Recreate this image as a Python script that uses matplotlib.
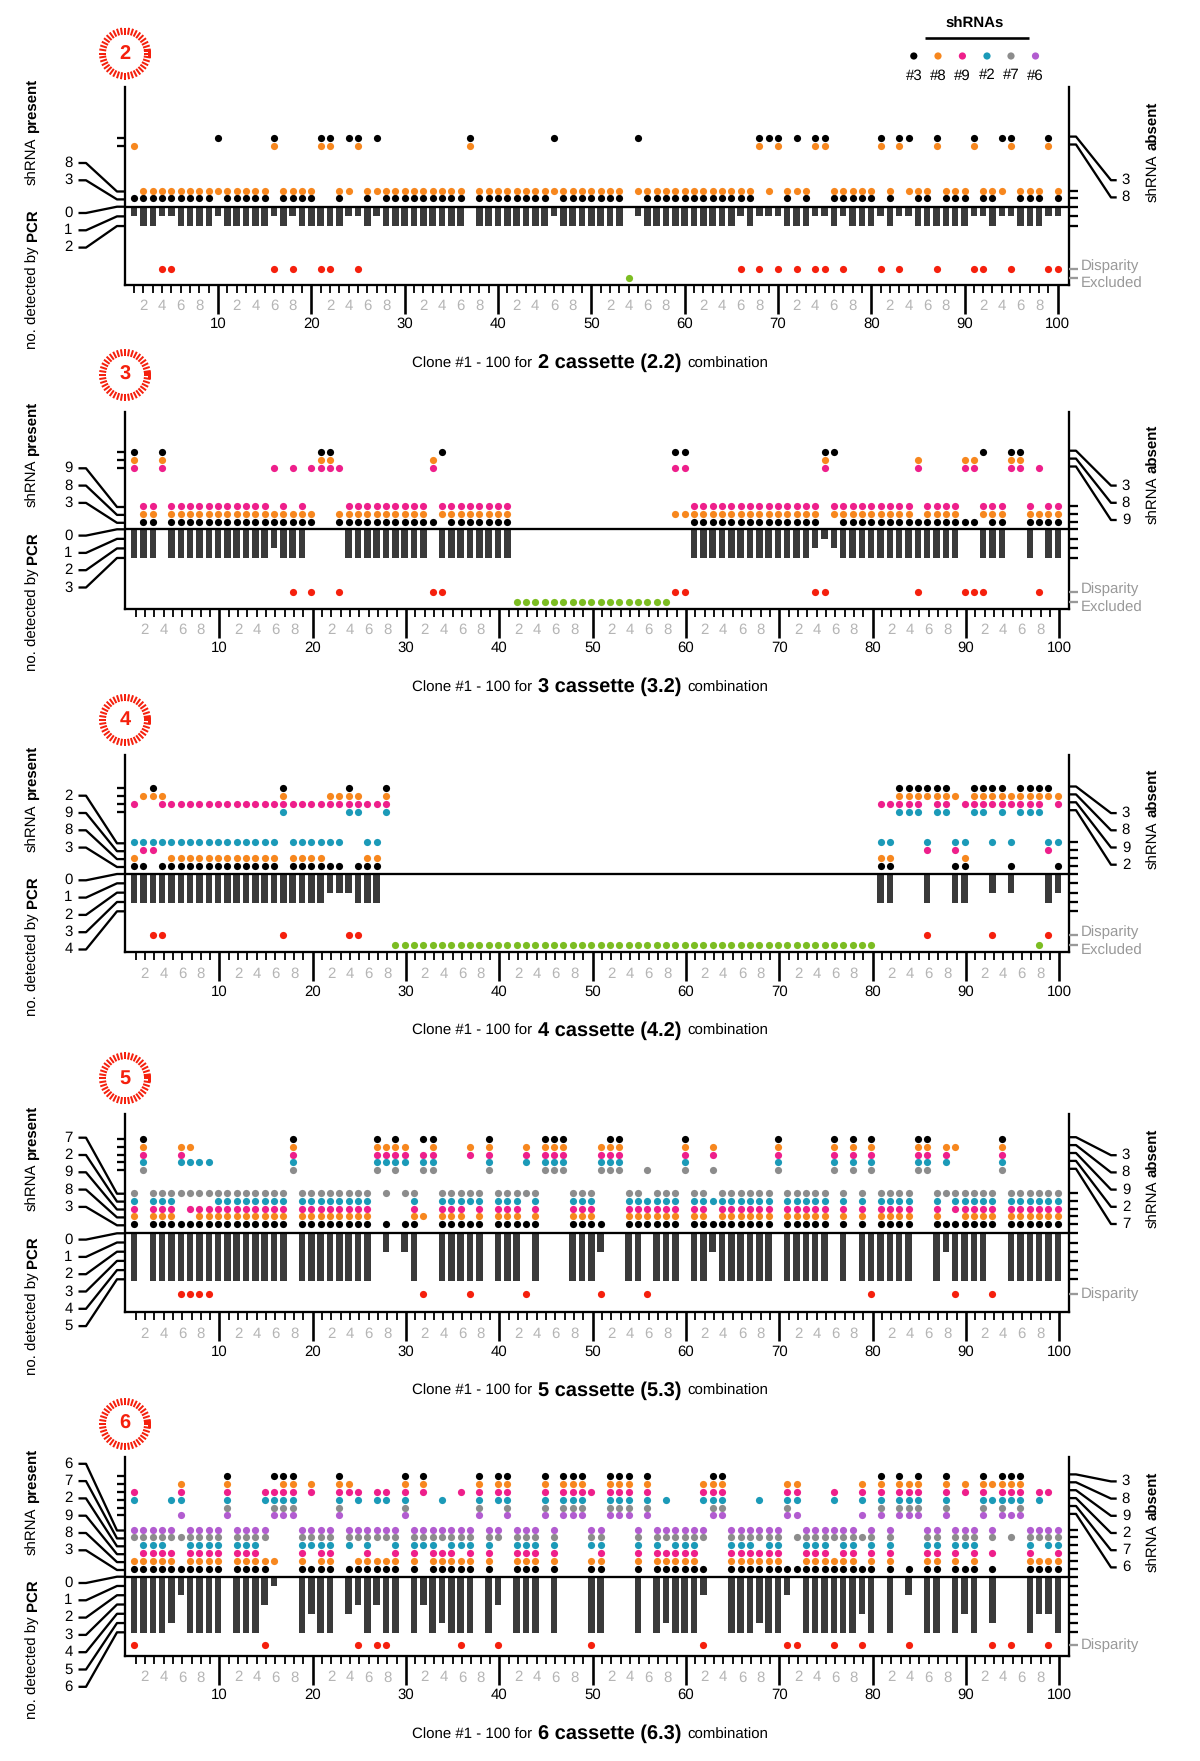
import numpy as np
import matplotlib
matplotlib.use('Agg')
import matplotlib.pyplot as plt

plt.rcParams['font.family'] = ['Liberation Sans', 'DejaVu Sans']
plt.rcParams['text.hinting'] = 'no_hinting'
plt.rcParams['text.hinting_factor'] = 1

W, H = 1200, 1761
DPI = 100
PX = 72 / DPI  # one pixel in points

# shRNAs, in the order used by every panel
shrna_names = ['3', '8', '9', '2', '7', '6']
shrna_colors = ['#000000', '#f7871e', '#ee1f8b', '#1b9ab8', '#8c8c8c', '#b25cd0']
red = '#f5200d'
green = '#7cbd22'
bar_color = '#3a3a3a'
grey_text = '#999999'
grey_minor = '#b5b5b5'

clones = np.arange(1, 101)

# --- panel 2 ---
p2_absent_3 = [10, 16, 21, 22, 24, 25, 27, 37, 46, 55, 68, 69, 70, 72, 74, 75, 81, 83, 84, 87, 91, 94, 95, 99]
p2_absent_8 = [1, 16, 21, 22, 25, 37, 68, 70, 74, 75, 81, 83, 87, 91, 95, 99]
p2_pcr = [1, 2, 2, 1, 1, 2, 2, 2, 2, 1,
          2, 2, 2, 2, 2, 1, 2, 1, 2, 2,
          2, 2, 2, 1, 1, 2, 1, 2, 2, 2,
          2, 2, 2, 2, 2, 2, 0, 2, 2, 2,
          2, 2, 2, 2, 2, 1, 2, 2, 2, 2,
          2, 2, 2, 0, 1, 2, 2, 2, 2, 2,
          2, 2, 2, 2, 2, 1, 2, 1, 1, 1,
          2, 2, 2, 1, 1, 2, 1, 2, 2, 2,
          1, 2, 1, 1, 2, 2, 2, 2, 2, 2,
          1, 1, 2, 1, 1, 2, 2, 2, 1, 1]
p2_disparity = [4, 5, 16, 18, 21, 22, 25, 66, 68, 70, 72, 74, 75, 77, 81, 83, 87, 91, 92, 95, 99, 100]
p2_excluded = [54]

# --- panel 3 ---
p3_absent_3 = [1, 4, 21, 22, 34, 59, 60, 75, 76, 92, 95, 96]
p3_absent_8 = [1, 4, 21, 22, 33, 75, 85, 90, 91, 95, 96]
p3_absent_9 = [1, 4, 16, 18, 20, 21, 22, 23, 33, 59, 60, 75, 85, 90, 91, 95, 96, 98]
p3_pcr = [3, 3, 3, 0, 3, 3, 3, 3, 3, 3,
          3, 3, 3, 3, 3, 2, 3, 3, 3, 0,
          0, 0, 0, 3, 3, 3, 3, 3, 3, 3,
          3, 3, 0, 3, 3, 3, 3, 3, 3, 3,
          3, 0, 0, 0, 0, 0, 0, 0, 0, 0,
          0, 0, 0, 0, 0, 0, 0, 0, 0, 0,
          3, 3, 3, 3, 3, 3, 3, 3, 3, 3,
          3, 3, 3, 2, 1, 2, 3, 3, 3, 3,
          3, 3, 3, 3, 3, 3, 3, 3, 3, 0,
          0, 3, 3, 3, 0, 0, 3, 0, 3, 3]
p3_disparity = [18, 20, 23, 33, 34, 59, 60, 74, 75, 85, 90, 91, 92, 98]
p3_excluded = [42, 43, 44, 45, 46, 47, 48, 49, 50, 51, 52, 53, 54, 55, 56, 57, 58]

# --- panel 4 ---
p4_absent_3 = [3, 17, 24, 28, 83, 84, 85, 86, 87, 88, 91, 92, 93, 94, 96, 97, 98, 99]
p4_absent_8 = [2, 3, 4, 17, 22, 23, 24, 25, 28, 83, 84, 85, 86, 87, 88, 89, 91, 92, 93, 94,
               95, 96, 97, 98, 99, 100]
p4_absent_9 = [1, 4, 5, 6, 7, 8, 9, 10, 11, 12, 13, 14, 15, 16, 17, 18, 19, 20, 21, 22, 23, 24,
               25, 26, 27, 28, 81, 82, 83, 84, 85, 87, 88, 90, 91, 92, 93, 94, 95, 96, 97, 98, 100]
p4_absent_2 = [17, 24, 25, 28, 83, 84, 85, 87, 88, 91, 92, 94, 96, 97, 98]
p4_pcr = [3, 3, 3, 3, 3, 3, 3, 3, 3, 3,
          3, 3, 3, 3, 3, 3, 3, 3, 3, 3,
          3, 2, 2, 2, 3, 3, 3, 0, 0, 0,
          0, 0, 0, 0, 0, 0, 0, 0, 0, 0,
          0, 0, 0, 0, 0, 0, 0, 0, 0, 0,
          0, 0, 0, 0, 0, 0, 0, 0, 0, 0,
          0, 0, 0, 0, 0, 0, 0, 0, 0, 0,
          0, 0, 0, 0, 0, 0, 0, 0, 0, 0,
          3, 3, 0, 0, 0, 3, 0, 0, 3, 3,
          0, 0, 2, 0, 2, 0, 0, 0, 3, 2]
p4_disparity = [3, 4, 17, 24, 25, 86, 93, 99]
p4_excluded = [29, 30, 31, 32, 33, 34, 35, 36, 37, 38, 39, 40, 41, 42, 43, 44, 45, 46, 47, 48,
               49, 50, 51, 52, 53, 54, 55, 56, 57, 58, 59, 60, 61, 62, 63, 64, 65, 66, 67, 68,
               69, 70, 71, 72, 73, 74, 75, 76, 77, 78, 79, 80, 98]

# --- panel 5 ---
p5_absent_3 = [2, 18, 27, 29, 32, 33, 39, 45, 46, 47, 52, 53, 60, 70, 76, 78, 80, 85, 86, 94]
p5_absent_8 = [2, 6, 7, 18, 27, 28, 29, 30, 33, 37, 39, 43, 45, 46, 47, 51, 52, 53, 60, 63, 70,
               76, 78, 80, 85, 86, 88, 89, 94]
p5_absent_9 = [2, 6, 18, 27, 28, 29, 30, 32, 33, 37, 39, 43, 45, 46, 47, 51, 52, 53, 60, 63, 70,
               76, 78, 80, 85, 86, 88, 94]
p5_absent_2 = [2, 6, 7, 8, 9, 18, 27, 28, 29, 30, 32, 33, 39, 43, 45, 46, 47, 51, 52, 53, 60, 70,
               76, 78, 80, 85, 86, 88, 94]
p5_absent_7 = [2, 18, 27, 29, 32, 33, 39, 45, 46, 47, 51, 52, 53, 56, 60, 63, 70, 76, 78, 80, 85,
               86, 94]
p5_pcr = [5, 0, 5, 5, 5, 5, 5, 5, 5, 5,
          5, 5, 5, 5, 5, 5, 5, 0, 5, 5,
          5, 5, 5, 5, 5, 5, 0, 2, 0, 2,
          5, 0, 0, 5, 5, 5, 5, 5, 0, 5,
          5, 5, 0, 5, 0, 0, 0, 5, 5, 5,
          2, 0, 0, 5, 5, 0, 5, 5, 5, 0,
          5, 5, 2, 5, 5, 5, 5, 5, 5, 0,
          5, 5, 5, 5, 5, 0, 5, 0, 5, 5,
          5, 5, 5, 5, 0, 0, 5, 2, 5, 5,
          5, 5, 0, 0, 5, 5, 5, 5, 5, 5]
p5_disparity = [6, 7, 8, 9, 32, 37, 43, 51, 56, 80, 89, 93]
p5_excluded = []

# --- panel 6 ---
p6_absent_3 = [11, 16, 17, 18, 23, 30, 32, 38, 40, 41, 45, 47, 48, 49, 52, 53, 54, 56, 63, 64,
               81, 83, 85, 88, 92, 94, 95, 96]
p6_absent_8 = [6, 11, 17, 18, 20, 23, 24, 30, 32, 38, 40, 41, 45, 47, 48, 49, 52, 53, 54, 56, 62,
               63, 64, 71, 72, 79, 81, 83, 84, 85, 88, 90, 92, 93, 94, 95, 96]
p6_absent_9 = [1, 6, 11, 15, 16, 17, 18, 20, 23, 24, 25, 27, 28, 30, 32, 36, 38, 40, 41, 45, 47,
               48, 49, 50, 52, 53, 54, 56, 62, 63, 64, 71, 72, 76, 79, 81, 83, 84, 85, 88, 90,
               92, 94, 95, 96, 98, 99]
p6_absent_2 = [1, 5, 6, 11, 15, 16, 17, 18, 23, 25, 27, 28, 30, 34, 38, 40, 41, 45, 47, 48, 49,
               52, 53, 54, 56, 58, 62, 63, 64, 68, 71, 72, 76, 79, 81, 83, 84, 85, 88, 92, 93,
               94, 95, 96, 98]
p6_absent_7 = [11, 16, 17, 18, 23, 30, 38, 41, 45, 47, 48, 49, 52, 53, 54, 56, 63, 64, 71, 81,
               83, 84, 85, 88, 92, 94, 96]
p6_absent_6 = [6, 11, 16, 17, 18, 23, 30, 38, 41, 45, 47, 48, 49, 52, 53, 54, 56, 63, 64, 71, 72,
               79, 81, 83, 84, 85, 88, 92, 94, 95, 96]
p6_pcr = [6, 6, 6, 6, 5, 2, 6, 6, 6, 6,
          0, 6, 6, 6, 3, 1, 0, 0, 6, 4,
          6, 6, 0, 4, 3, 6, 3, 6, 6, 0,
          6, 3, 6, 5, 6, 6, 6, 0, 6, 3,
          0, 6, 6, 6, 0, 6, 0, 0, 0, 6,
          6, 0, 0, 0, 6, 0, 6, 5, 6, 6,
          6, 2, 0, 0, 6, 6, 6, 5, 6, 6,
          2, 0, 6, 6, 6, 6, 6, 6, 4, 6,
          0, 6, 0, 2, 0, 6, 6, 0, 6, 4,
          6, 0, 5, 0, 0, 0, 6, 4, 4, 6]
p6_disparity = [1, 15, 25, 27, 28, 36, 40, 50, 62, 71, 72, 76, 79, 84, 93, 95, 99]
p6_excluded = []

panels = [
    dict(num=2, combo='2.2', absent=[p2_absent_3, p2_absent_8], pcr=p2_pcr,
         disparity=p2_disparity, excluded=p2_excluded, n_ticks=2,
         top=87.3, base=206.7, bottom=284.7, first=8.3, upper=60.7, unit=9.67, tick_unit=9.67,
         red_y=62.3, green_y=71.3, tick_shift=0.0, badge=53.5),
    dict(num=3, combo='3.2', absent=[p3_absent_3, p3_absent_8, p3_absent_9], pcr=p3_pcr,
         disparity=p3_disparity, excluded=p3_excluded, n_ticks=3,
         top=411.7, base=529.3, bottom=608.7, first=7.5, upper=61.3, unit=9.56, tick_unit=9.56,
         red_y=63.0, green_y=72.7, tick_shift=0.15, badge=375),
    dict(num=4, combo='4.2', absent=[p4_absent_3, p4_absent_8, p4_absent_9, p4_absent_2], pcr=p4_pcr,
         disparity=p4_disparity, excluded=p4_excluded, n_ticks=4,
         top=755, base=874, bottom=952.3, first=8.0, upper=62.3, unit=9.55, tick_unit=9.33,
         red_y=61.0, green_y=71.0, tick_shift=0.15, badge=720),
    dict(num=5, combo='5.3', absent=[p5_absent_3, p5_absent_8, p5_absent_9, p5_absent_2, p5_absent_7],
         pcr=p5_pcr, disparity=p5_disparity, excluded=p5_excluded, n_ticks=5,
         top=1114.3, base=1233.3, bottom=1312.3, first=9.0, upper=63.0, unit=9.47, tick_unit=9.2,
         red_y=60.7, green_y=None, tick_shift=0.15, badge=1078.3),
    dict(num=6, combo='6.3', absent=[p6_absent_3, p6_absent_8, p6_absent_9, p6_absent_2, p6_absent_7,
                                     p6_absent_6],
         pcr=p6_pcr, disparity=p6_disparity, excluded=p6_excluded, n_ticks=6,
         top=1457.3, base=1576.7, bottom=1656, first=7.7, upper=61.3, unit=9.33, tick_unit=9.27,
         red_y=68.0, green_y=None, tick_shift=0.15, badge=1424),
]

AX_LEFT, AX_RIGHT = 124.8, 1069.0
CLONE_PX = 9.33
ROW = 7.9
DOT = (7.2 * PX) ** 2
LW = 2.3 * PX
FS = 10.8

fig = plt.figure(figsize=(W / DPI, H / DPI), dpi=DPI, facecolor='white')

# overlay in picture pixels for the leader lines, badges and side text
bg = fig.add_axes([0, 0, 1, 1], zorder=3)
bg.set_xlim(0, W)
bg.set_ylim(H, 0)
bg.axis('off')


def leader(xs, ys, color='black'):
    bg.plot(xs, ys, color=color, lw=LW, solid_capstyle='butt', solid_joinstyle='round')


def badge(cy, num):
    cx = 125
    ang = np.linspace(0, 2 * np.pi, 40, endpoint=False)
    for a in ang:
        bg.plot([cx + 19 * np.cos(a), cx + 26 * np.cos(a)],
                [cy + 19 * np.sin(a), cy + 26 * np.sin(a)],
                color=red, lw=2.0 * PX, solid_capstyle='butt')
    bg.plot([cx + 20, cx + 24, cx + 24], [cy - 3.5, cy - 3.5, cy + 2], color=red, lw=3 * PX)
    bg.text(cx, cy, str(num), color=red, fontsize=14.5, fontweight='bold', ha='center', va='center')


for p in panels:
    base = p['base']
    n = len(p['absent'])

    ax = fig.add_axes([AX_LEFT / W, 1 - p['bottom'] / H, (AX_RIGHT - AX_LEFT) / W,
                       (p['bottom'] - p['top']) / H], zorder=1)
    ax.set_xlim(0, (AX_RIGHT - AX_LEFT) / CLONE_PX)
    ax.set_ylim(-(p['bottom'] - base), base - p['top'])
    ax.set_facecolor('none')

    # PCR bars hang from the baseline
    ax.bar(clones, -np.array(p['pcr']) * p['unit'], width=0.7, color=bar_color, linewidth=0)
    ax.axhline(0, color='black', lw=LW, zorder=3)

    # every shRNA is either absent (upper block) or present (lower block)
    for k, absent in enumerate(p['absent']):
        present = [c for c in clones if c not in absent and c not in p['excluded']]
        y_low = p['first'] + k * ROW
        y_up = p['upper'] + (n - 1 - k) * ROW
        ax.scatter(present, [y_low] * len(present), s=DOT, color=shrna_colors[k], linewidths=0, zorder=4)
        ax.scatter(absent, [y_up] * len(absent), s=DOT, color=shrna_colors[k], linewidths=0, zorder=4)

    ax.scatter(p['disparity'], [-p['red_y']] * len(p['disparity']), s=DOT, color=red, linewidths=0, zorder=4)
    if p['excluded']:
        ax.scatter(p['excluded'], [-p['green_y']] * len(p['excluded']), s=DOT, color=green,
                   linewidths=0, zorder=4)

    # x axis
    major = clones[clones % 10 == 0]
    minor = clones[clones % 10 != 0]
    ax.set_xticks(major + p['tick_shift'], [str(c) for c in major])
    ax.set_xticks(minor + p['tick_shift'], [str(c % 10) if c % 2 == 0 else '' for c in minor], minor=True)
    ax.tick_params(axis='x', which='major', length=28.6 * PX, width=2.6 * PX, pad=3.8 * PX,
                   labelsize=10.6, labelcolor='black')
    ax.tick_params(axis='x', which='minor', length=7.6 * PX, width=1.8 * PX, pad=7.0 * PX,
                   labelsize=10.6, labelcolor=grey_minor)
    ax.set_yticks([])
    ax.spines['top'].set_visible(False)
    for s in ['left', 'right', 'bottom']:
        ax.spines[s].set_linewidth(LW)

    # left: rows and their numbers
    low_ys = [base - (p['first'] + k * ROW) for k in range(n)]
    up_ys = [base - (p['upper'] + k * ROW) for k in range(n)]
    for k, y in enumerate(low_ys):
        ly = base - 26.4 - 17.3 * k
        leader([78.5, 86, 117, AX_LEFT], [ly, ly, y + 1, y + 1])
        bg.text(68.5, ly, shrna_names[k], fontsize=FS, ha='center', va='center')
        leader([AX_RIGHT, AX_RIGHT + 8.5], [y, y])
    for y in up_ys:
        leader([116.7, AX_LEFT], [y, y])

    # left: PCR counts
    for j in range(p['n_ticks'] + 1):
        y = base + j * p['tick_unit']
        ly = base + 6.3 + 17.3 * j
        leader([78.5, 86, 117, AX_LEFT], [ly, ly, y, y])
        bg.text(68.5, ly, str(j), fontsize=FS, ha='center', va='center')
        leader([AX_RIGHT, AX_RIGHT + 8.5], [y, y])

    # right: absent rows to their numbers
    for k in range(n):
        y = base - (p['upper'] + (n - 1 - k) * ROW) - 1.5
        ly = base - 9.3 - 17.2 * (n - 1 - k)
        leader([AX_RIGHT, AX_RIGHT + 7, 1111, 1116.7], [y, y, ly, ly])
        bg.text(1126, ly, shrna_names[k], fontsize=FS, ha='center', va='center')

    # right: disparity / excluded
    y = base + p['red_y']
    leader([AX_RIGHT, AX_RIGHT + 8.5], [y, y], color=grey_text)
    if p['excluded']:
        bg.text(1081, y - 3, 'Disparity', color=grey_text, fontsize=FS, ha='left', va='center')
        y2 = base + p['green_y']
        leader([AX_RIGHT, AX_RIGHT + 8.5], [y2, y2], color=grey_text)
        bg.text(1081, y2 + 5.5, 'Excluded', color=grey_text, fontsize=FS, ha='left', va='center')
    else:
        bg.text(1081, y, 'Disparity', color=grey_text, fontsize=FS, ha='left', va='center')

    # rotated side titles
    bg.text(32.5, base - 22, 'shRNA', rotation=90, fontsize=FS, ha='center', va='bottom')
    bg.text(32.5, base - 73.7, 'present', rotation=90, fontsize=FS, fontweight='bold', ha='center', va='bottom')
    bg.text(32.5, base + 142, 'no. detected by', rotation=90, fontsize=FS, ha='center', va='bottom')
    bg.text(32.5, base + 34.5, 'PCR', rotation=90, fontsize=FS, fontweight='bold', ha='center', va='bottom')
    bg.text(1154, base - 5, 'shRNA', rotation=90, fontsize=FS, ha='center', va='bottom')
    bg.text(1154, base - 56.7, 'absent', rotation=90, fontsize=FS, fontweight='bold', ha='center', va='bottom')

    # caption
    cy = p['bottom'] + 79
    bg.text(412.5, cy, 'Clone #1 - 100 for', fontsize=FS, ha='left', va='center')
    bg.text(538.5, cy - 1, '%d cassette (%s)' % (p['num'], p['combo']), fontsize=14.4, fontweight='bold',
            ha='left', va='center')
    bg.text(687.6, cy, 'combination', fontsize=FS, ha='left', va='center')

    badge(p['badge'], p['num'])

# legend at the top right
legend_x = [913.8, 938, 962.4, 987, 1011, 1035.5]
bg.text(975, 23.8, 'shRNAs', fontsize=FS, fontweight='bold', ha='center', va='center')
bg.plot([924.5, 1028.6], [38.3, 38.3], color='black', lw=2.6 * PX, solid_capstyle='butt')
bg.scatter(legend_x, [56] * 6, s=DOT, c=shrna_colors, linewidths=0)
for x, name in zip(legend_x, shrna_names):
    bg.text(x, 75.5, '#' + name, fontsize=FS, ha='center', va='center', linespacing=1)

fig.savefig('out.png', dpi=DPI)
